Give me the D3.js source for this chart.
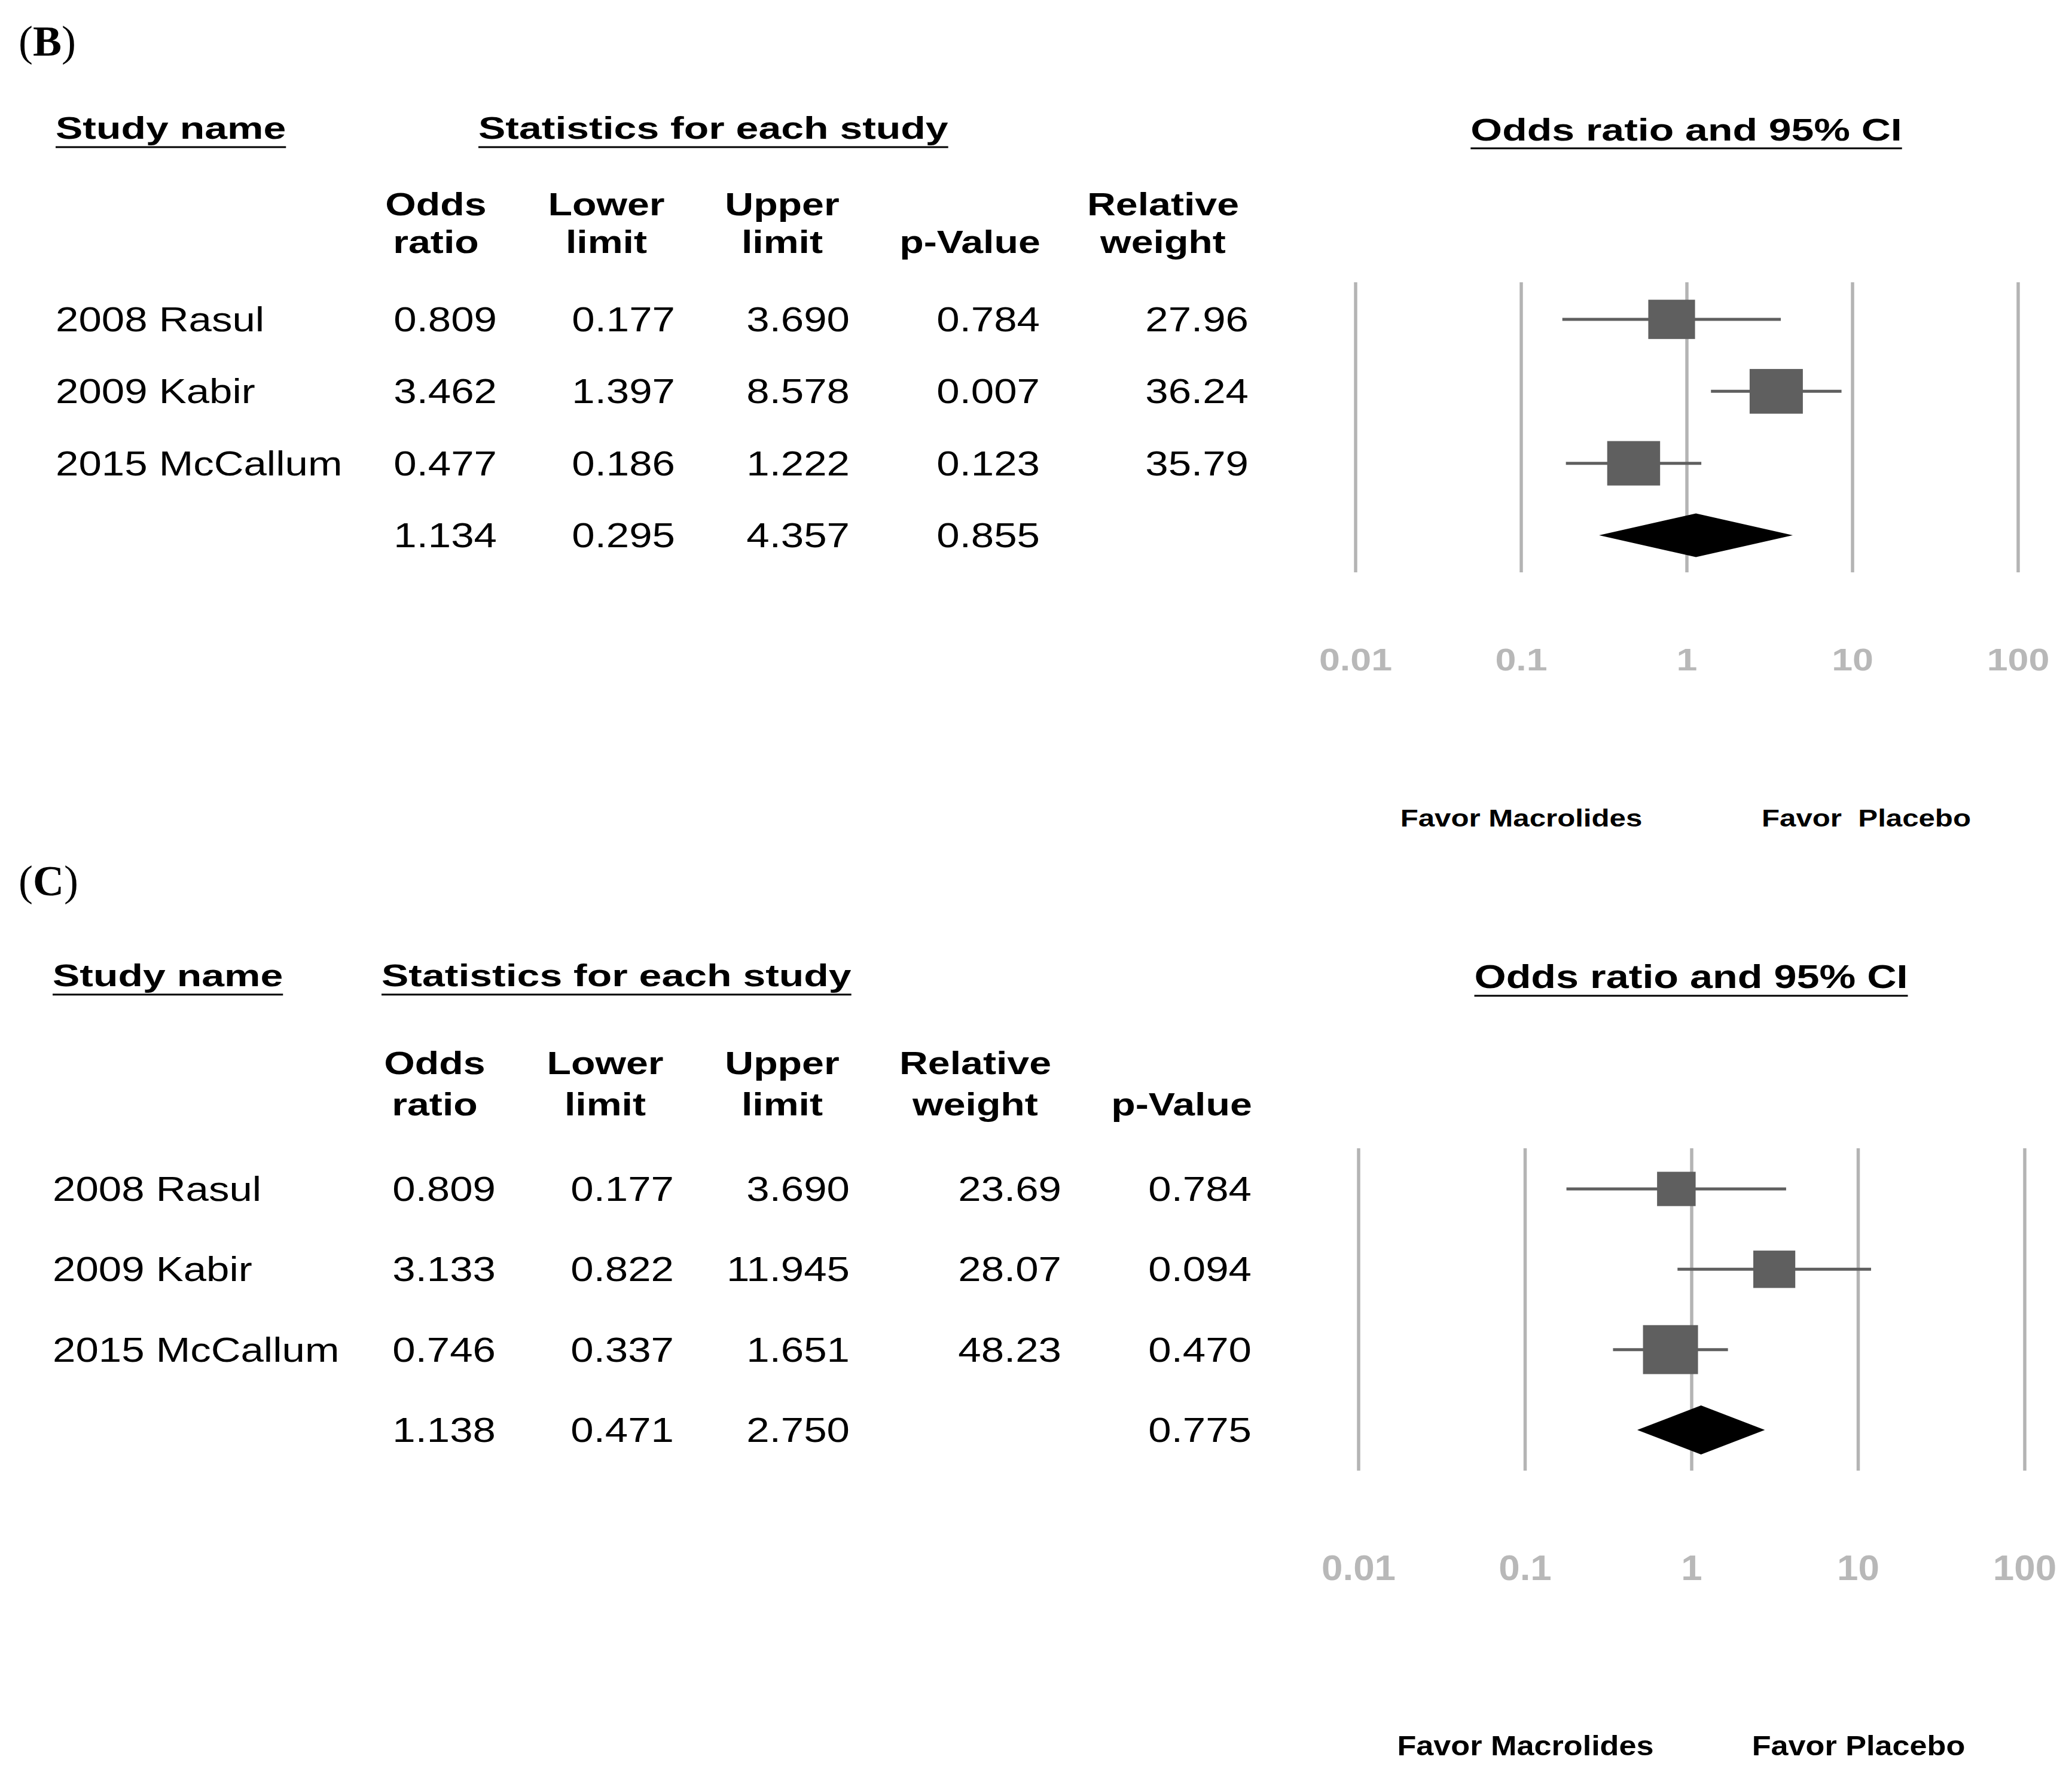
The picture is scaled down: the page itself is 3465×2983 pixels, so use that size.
<!DOCTYPE html>
<html>
<head>
<meta charset="utf-8">
<script src="https://cdn.jsdelivr.net/npm/d3@7"></script>
<style>
  body { margin: 0; background: #fff; }
  text { font-family: "Liberation Sans", Arial, sans-serif; white-space: pre; }
</style>
</head>
<body>
<div id="chart"></div>
<script>
// ---- data ----
const studyNames = ["2008 Rasul", "2009 Kabir", "2015 McCallum"];

// panel B
const oddsB   = [0.809, 3.462, 0.477];
const lowerB  = [0.177, 1.397, 0.186];
const upperB  = [3.690, 8.578, 1.222];
const pValB   = [0.784, 0.007, 0.123];
const weightB = [27.96, 36.24, 35.79];
const summaryB = [1.134, 0.295, 4.357, 0.855]; // odds, lower, upper, p

// panel C
const oddsC   = [0.809, 3.133, 0.746];
const lowerC  = [0.177, 0.822, 0.337];
const upperC  = [3.690, 11.945, 1.651];
const weightC = [23.69, 28.07, 48.23];
const pValC   = [0.784, 0.094, 0.470];
const summaryC = [1.138, 0.471, 2.750, 0.775];

const tickValues = [0.01, 0.1, 1, 10, 100];
const tickLabels = ["0.01", "0.1", "1", "10", "100"];
const favorLabels = ["Favor Macrolides", "Favor  Placebo"];
const favorLabelsC = ["Favor Macrolides", "Favor Placebo"];

const W = 3465, H = 2983;
const f3 = d3.format(".3f"), f2 = d3.format(".2f");

const svg = d3.select("#chart").append("svg")
  .attr("width", W).attr("height", H);

//-------------------------------------------------------------------
// text with a horizontal stretch, the source figure is widened
function addText(g, x, y, str, o) {
  const t = g.append("text")
    .attr("transform", `translate(${x},${y}) scale(${o.sx || 1},1)`)
    .attr("text-anchor", o.anchor || "start")
    .style("font-size", o.size + "px")
    .style("font-weight", o.bold ? "bold" : "normal")
    .style("fill", o.fill || "#000")
    .text(str);
  return t;
}

function underline(g, t, x, y, sx, anchor) {
  const w = t.node().getComputedTextLength() * sx;
  const x0 = anchor === "middle" ? x - w / 2 : x;
  g.append("line")
    .attr("x1", x0).attr("x2", x0 + w)
    .attr("y1", y).attr("y2", y)
    .attr("stroke", "#000").attr("stroke-width", 3);
}

//-------------------------------------------------------------------
function drawPanel(p) {
  const g = svg.append("g");
  const body = { size: 58, sx: 1.19 };
  const head = { size: 51.5, sx: 1.32, bold: true };
  const colHead = { size: 53, sx: 1.25, bold: true };

  // panel letter
  const lab = g.append("text")
    .attr("x", 31).attr("y", p.labelY)
    .style("font-family", "'Liberation Serif', 'Times New Roman', serif")
    .style("font-size", "72px");
  lab.append("tspan").text("(");
  lab.append("tspan").style("font-weight", "bold").text(p.letter);
  lab.append("tspan").text(")");

  // section headings
  let t = addText(g, p.nameX, p.headY, "Study name", head);
  underline(g, t, p.nameX, p.headY + 14, head.sx, "start");
  t = addText(g, p.statX, p.headY, "Statistics for each study", head);
  underline(g, t, p.statX, p.headY + 14, head.sx, "start");

  // row positions
  const y = d3.scaleLinear().domain([0, 3]).range(p.rowRange);

  // study names
  studyNames.forEach((n, i) => addText(g, p.nameX, y(i) + 20, n, body));

  // statistics columns
  p.columns.forEach(c => {
    addText(g, c.center, p.colHeadY[0], c.head[0], Object.assign({ anchor: "middle" }, colHead));
    addText(g, c.center, p.colHeadY[1], c.head[1], Object.assign({ anchor: "middle" }, colHead));
    c.values.forEach((v, i) => {
      if (v === null) return;
      addText(g, c.right, y(i) + 20, c.fmt(v), Object.assign({ anchor: "end" }, body));
    });
  });

  // forest plot
  const x = d3.scaleLog().domain([0.01, 100]).range(p.xRange);
  const ft = addText(g, p.forestTitleX, p.headY + 3, "Odds ratio and 95% CI",
    { size: p.forestTitleSize, sx: p.forestTitleSx, bold: true, anchor: "middle" });
  underline(g, ft, p.forestTitleX, p.headY + 16, p.forestTitleSx, "middle");

  g.selectAll(".grid").data(tickValues).enter().append("line")
    .attr("x1", d => x(d)).attr("x2", d => x(d))
    .attr("y1", p.gridRange[0]).attr("y2", p.gridRange[1])
    .attr("stroke", "#b4b4b4").attr("stroke-width", 5.5);

  const maxW = d3.max(p.weights);
  p.odds.forEach((o, i) => {
    g.append("line")
      .attr("x1", x(p.lower[i])).attr("x2", x(p.upper[i]))
      .attr("y1", y(i)).attr("y2", y(i))
      .attr("stroke", "#5f5f5f").attr("stroke-width", 5);
    const s = p.boxMax * Math.sqrt(p.weights[i] / maxW);
    const h = s * p.boxAspect;
    g.append("rect")
      .attr("x", x(o) - s / 2).attr("y", y(i) - h / 2)
      .attr("width", s).attr("height", h)
      .attr("fill", "#5f5f5f");
  });

  // summary diamond
  const dy = y(3), dh = p.diamondH / 2;
  const pts = [[x(p.summary[1]), dy], [x(p.summary[0]), dy - dh],
               [x(p.summary[2]), dy], [x(p.summary[0]), dy + dh]];
  g.append("path")
    .attr("d", d3.line()(pts) + "Z")
    .attr("fill", "#000");

  // axis labels
  tickValues.forEach((v, i) => addText(g, x(v), p.tickY, tickLabels[i],
    { size: p.tickSize, sx: p.tickSx, bold: true, anchor: "middle", fill: "#b8b8b8" }));

  addText(g, p.favorX[0], p.favorY, p.favor[0], { size: p.favorSize, sx: p.favorSx, bold: true, anchor: "middle" });
  addText(g, p.favorX[1], p.favorY, p.favor[1], { size: p.favorSize, sx: p.favorSx, bold: true, anchor: "middle" });
}

//-------------------------------------------------------------------
drawPanel({
  letter: "B", labelY: 93,
  nameX: 93, statX: 800, headY: 232,
  colHeadY: [360, 423],
  rowRange: [534, 895],
  columns: [
    { head: ["Odds", "ratio"], center: 729, right: 831, fmt: f3, values: oddsB.concat([summaryB[0]]) },
    { head: ["Lower", "limit"], center: 1014, right: 1129, fmt: f3, values: lowerB.concat([summaryB[1]]) },
    { head: ["Upper", "limit"], center: 1308, right: 1421, fmt: f3, values: upperB.concat([summaryB[2]]) },
    { head: ["", "p-Value"], center: 1622, right: 1739, fmt: f3, values: pValB.concat([summaryB[3]]) },
    { head: ["Relative", "weight"], center: 1945, right: 2088, fmt: f2, values: weightB.concat([null]) }
  ],
  odds: oddsB, lower: lowerB, upper: upperB, weights: weightB, summary: summaryB,
  xRange: [2267, 3375], gridRange: [472, 957],
  boxMax: 89, boxAspect: 0.84, diamondH: 73,
  forestTitleX: 2820, forestTitleSize: 51.5, forestTitleSx: 1.32,
  tickY: 1121, tickSize: 51, tickSx: 1.23,
  favor: favorLabels, favorX: [2544, 3121], favorY: 1382, favorSize: 40, favorSx: 1.23
});

drawPanel({
  letter: "C", labelY: 1497,
  nameX: 88, statX: 638, headY: 1649,
  colHeadY: [1796, 1865],
  rowRange: [1988, 2391],
  columns: [
    { head: ["Odds", "ratio"], center: 727, right: 829, fmt: f3, values: oddsC.concat([summaryC[0]]) },
    { head: ["Lower", "limit"], center: 1012, right: 1127, fmt: f3, values: lowerC.concat([summaryC[1]]) },
    { head: ["Upper", "limit"], center: 1308, right: 1421, fmt: f3, values: upperC.concat([summaryC[2]]) },
    { head: ["Relative", "weight"], center: 1631, right: 1775, fmt: f2, values: weightC.concat([null]) },
    { head: ["", "p-Value"], center: 1976, right: 2093, fmt: f3, values: pValC.concat([summaryC[3]]) }
  ],
  odds: oddsC, lower: lowerC, upper: upperC, weights: weightC, summary: summaryC,
  xRange: [2272, 3386], gridRange: [1920, 2459],
  boxMax: 92, boxAspect: 0.89, diamondH: 82,
  forestTitleX: 2828, forestTitleSize: 56, forestTitleSx: 1.22,
  tickY: 2642, tickSize: 59, tickSx: 1.08,
  favor: favorLabelsC, favorX: [2551, 3108], favorY: 2935, favorSize: 47, favorSx: 1.11
});
</script>
</body>
</html>
